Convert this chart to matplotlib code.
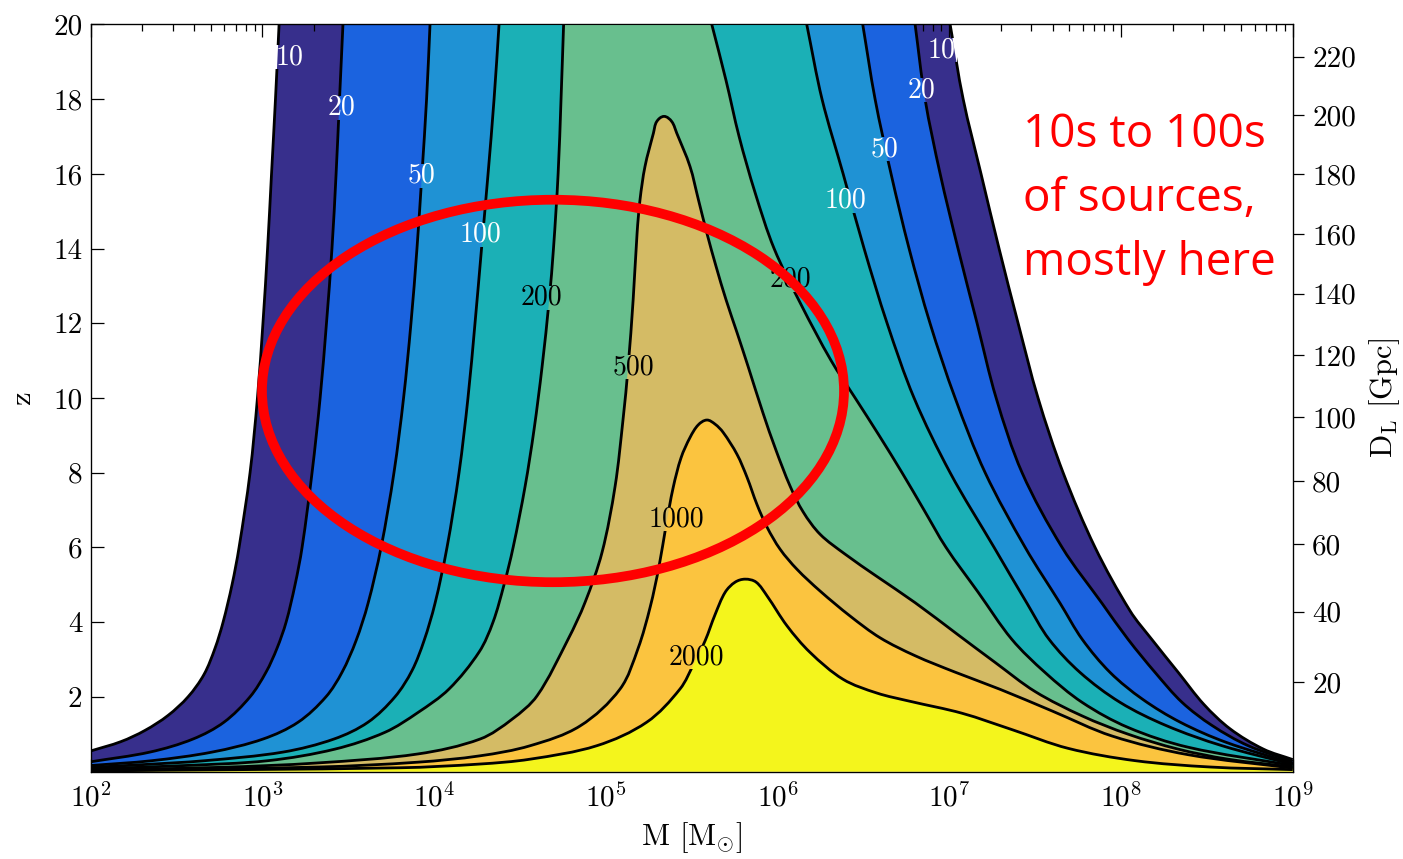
import matplotlib
matplotlib.use("Agg")
import numpy as np
import matplotlib.pyplot as plt
from matplotlib.patches import Ellipse, PathPatch, Rectangle
from matplotlib.path import Path
from matplotlib.ticker import LogLocator, NullFormatter, LogFormatterMathtext

plt.rcParams['font.family'] = 'cmr10'
plt.rcParams['mathtext.fontset'] = 'cm'
plt.rcParams['axes.formatter.use_mathtext'] = True

# SNR levels and the colour of the band above each level
levels = [10, 20, 50, 100, 200, 500, 1000, 2000]
band_colors = ['#372f8c', '#1b63df', '#1f92d4', '#1bb0b6',
               '#68bf8e', '#d4bb65', '#fbc43f', '#f4f51c']

# contours, log10(M/Msun) vs z
# open contours: left branch (bottom -> top), right branch (top -> bottom)
c10_left_logm = [2.0, 2.176, 2.316, 2.450, 2.567, 2.660, 2.724, 2.771, 2.823, 2.864, 2.928, 2.971, 3.003, 3.030, 3.053, 3.076, 3.097]
c10_left_z = [0.55, 0.8, 1.1, 1.5, 2.0, 2.6, 3.3, 4.0, 5.0, 6.0, 8.0, 10.0, 12.0, 14.0, 16.0, 18.0, 20.0]
c10_right_logm = [7.005, 7.081, 7.185, 7.290, 7.401, 7.517, 7.663, 7.849, 8.053, 8.179, 8.334, 8.482, 8.636, 8.829, 9.0]
c10_right_z = [20.0, 18.0, 16.0, 14.0, 12.0, 10.0, 8.0, 6.0, 4.3, 3.54, 2.65, 1.80, 1.14, 0.60, 0.32]

c20_left_logm = [2.0, 2.345, 2.596, 2.776, 2.928, 3.021, 3.085, 3.138, 3.190, 3.231, 3.289, 3.336, 3.373, 3.405, 3.429, 3.449, 3.469]
c20_left_z = [0.26, 0.52, 0.87, 1.32, 2.0, 2.66, 3.3, 4.0, 5.0, 6.0, 8.0, 10.0, 12.0, 14.0, 16.0, 18.0, 20.0]
c20_right_logm = [6.801, 6.859, 6.947, 7.051, 7.162, 7.273, 7.424, 7.657, 7.890, 8.041, 8.199, 8.356, 8.531, 8.741, 9.0]
c20_right_z = [20.0, 18.0, 16.0, 14.0, 12.0, 10.0, 8.0, 6.0, 4.5, 3.54, 2.65, 1.85, 1.23, 0.69, 0.27]

c50_left_logm = [2.0, 2.357, 2.707, 3.004, 3.208, 3.370, 3.464, 3.545, 3.615, 3.691, 3.766, 3.822, 3.865, 3.900, 3.929, 3.956, 3.976]
c50_left_z = [0.16, 0.29, 0.52, 0.87, 1.32, 2.0, 2.66, 3.5, 4.5, 6.0, 8.0, 10.0, 12.0, 14.0, 16.0, 18.0, 20.0]
c50_right_logm = [6.496, 6.568, 6.661, 6.766, 6.888, 7.034, 7.209, 7.442, 7.646, 7.774, 7.937, 8.124, 8.345, 8.613, 9.0]
c50_right_z = [20.0, 18.0, 16.0, 14.0, 12.0, 10.0, 8.0, 6.0, 4.5, 3.54, 2.65, 1.94, 1.32, 0.78, 0.22]

c100_left_logm = [2.0, 2.287, 2.666, 3.120, 3.417, 3.615, 3.772, 3.871, 3.941, 4.005, 4.075, 4.145, 4.197, 4.238, 4.276, 4.314, 4.349, 4.378]
c100_left_z = [0.11, 0.18, 0.29, 0.52, 0.87, 1.32, 2.0, 2.7, 3.5, 4.5, 6.0, 8.0, 10.0, 12.0, 14.0, 16.0, 18.0, 20.0]
c100_right_logm = [6.170, 6.259, 6.382, 6.504, 6.638, 6.795, 7.005, 7.261, 7.453, 7.581, 7.762, 7.995, 8.263, 8.589, 9.0]
c100_right_z = [20.0, 18.0, 16.0, 14.0, 12.0, 10.0, 8.0, 6.0, 4.5, 3.54, 2.65, 1.85, 1.23, 0.69, 0.19]

c200_left_logm = [2.0, 2.549, 3.033, 3.423, 3.714, 3.906, 4.087, 4.262, 4.343, 4.407, 4.460, 4.530, 4.582, 4.629, 4.670, 4.695, 4.722, 4.739, 4.754]
c200_left_z = [0.07, 0.16, 0.29, 0.60, 1.05, 1.58, 2.21, 3.2, 4.0, 5.0, 6.0, 7.64, 9.16, 10.85, 12.63, 14.0, 16.0, 18.0, 20.0]
c200_right_logm = [5.617, 5.700, 5.776, 5.869, 5.980, 6.137, 6.312, 6.452, 6.591, 6.725, 6.853, 6.981, 7.168, 7.364, 7.558, 7.774, 8.041, 8.391, 9.0]
c200_right_z = [20.0, 18.5, 17.0, 15.5, 14.0, 12.5, 11.0, 10.0, 9.0, 8.0, 7.0, 6.0, 4.8, 3.54, 2.65, 1.85, 1.18, 0.65, 0.16]

# closed contours (peaks), left bottom -> peak -> right bottom
c500_logm = [2.0, 2.742, 3.324, 3.906, 4.268, 4.454, 4.600, 4.780, 4.879, 4.978, 5.054, 5.100, 5.130, 5.159,
             5.182, 5.199, 5.228, 5.277, 5.296, 5.339, 5.384, 5.413, 5.490, 5.539, 5.588, 5.642, 5.700, 5.764,
             5.828, 5.915, 5.991, 6.073, 6.149, 6.248, 6.393, 6.579, 6.801, 7.051, 7.267, 7.500, 7.773, 8.041,
             8.332, 8.623, 9.0]
c500_z = [0.04, 0.11, 0.23, 0.47, 0.87, 1.40, 2.03, 3.54, 4.53, 5.87, 7.64, 9.42, 10.85, 12.63,
          14.42, 15.31, 16.2, 17.09, 17.40, 17.54, 17.40, 17.09, 16.2, 15.31, 14.42, 13.52, 12.63, 11.75,
          10.85, 9.6, 8.6, 7.64, 6.95, 6.35, 5.82, 5.22, 4.52, 3.66, 2.92, 2.14, 1.49, 1.0,
          0.60, 0.33, 0.12]

c1000_logm = [2.0, 3.324, 3.906, 4.267, 4.559, 4.850, 5.083, 5.188, 5.258, 5.310, 5.351, 5.392, 5.438, 5.491,
              5.538, 5.588, 5.636, 5.683, 5.764, 5.822, 5.880, 5.939, 6.015, 6.114, 6.248, 6.423, 6.597, 6.801,
              7.034, 7.296, 7.599, 7.948, 8.391, 9.0]
c1000_z = [0.025, 0.12, 0.25, 0.42, 0.69, 1.22, 2.21, 3.3, 4.4, 5.5, 6.6, 7.6, 8.4, 8.95,
           9.28, 9.41, 9.3, 9.08, 8.49, 7.88, 7.15, 6.54, 5.95, 5.41, 4.83, 4.16, 3.58, 3.10,
           2.66, 2.20, 1.62, 0.95, 0.45, 0.09]

c2000_logm = [2.0, 3.801, 4.267, 4.559, 4.947, 5.238, 5.432, 5.514, 5.578, 5.636, 5.695, 5.753, 5.811, 5.875,
              5.939, 6.055, 6.189, 6.381, 6.579, 6.771, 7.074, 7.366, 7.692, 8.083, 8.520, 9.0]
c2000_z = [0.015, 0.10, 0.20, 0.33, 0.69, 1.32, 2.21, 2.9, 3.5, 4.2, 4.8, 5.07, 5.15, 5.07,
           4.70, 3.90, 3.19, 2.47, 2.10, 1.88, 1.56, 1.12, 0.62, 0.29, 0.12, 0.05]

# contour labels
label_text = ['10', '20', '50', '100', '200', '500', '1000', '2000', '200', '100', '50', '20', '10']
label_logm = [3.155, 3.458, 3.924, 4.268, 4.623, 5.159, 5.409, 5.525, 6.073, 6.393, 6.620, 6.836, 6.952]
label_z = [19.13, 17.77, 15.95, 14.37, 12.69, 10.82, 6.75, 3.06, 13.17, 15.28, 16.67, 18.25, 19.32]

# axes ticks
m_ticks = [1e2, 1e3, 1e4, 1e5, 1e6, 1e7, 1e8, 1e9]
z_ticks = [2, 4, 6, 8, 10, 12, 14, 16, 18, 20]
dl_values = [20, 40, 60, 80, 100, 120, 140, 160, 180, 200, 220]
dl_z = [2.40, 4.28, 6.08, 7.78, 9.49, 11.14, 12.79, 14.39, 16.00, 17.58, 19.14]

note_lines = ['10s to 100s', 'of sources,', 'mostly here']


def smooth_segments(lm, z):
    # bezier control points through the traced points (drawn as curves, no new data)
    p = np.column_stack([(np.array(lm) - 2) / 7 * 1202, np.array(z) / 20 * 747])
    n = len(p)
    t = np.zeros_like(p)
    for k in range(n):
        d = p[min(k + 1, n - 1)] - p[max(k - 1, 0)]
        t[k] = d / np.hypot(*d)
    verts = [p[0]]
    for k in range(n - 1):
        L = np.hypot(*(p[k + 1] - p[k]))
        verts += [p[k] + t[k] * L / 3, p[k + 1] - t[k + 1] * L / 3, p[k + 1]]
    verts = np.array(verts)
    out = np.column_stack([10 ** (verts[:, 0] / 1202 * 7 + 2), verts[:, 1] / 747 * 20])
    codes = [Path.MOVETO] + [Path.CURVE4] * (3 * (n - 1))
    return out, codes


fig = plt.figure(figsize=(14.03, 8.59), dpi=100)
ax = fig.add_axes([0.06465, 0.10186, 0.85674, 0.86962])
ax.set_xscale('log')
ax.set_xlim(1e2, 1e9)
ax.set_ylim(0, 20)

open_curves = [
    (c10_left_logm, c10_left_z, c10_right_logm, c10_right_z),
    (c20_left_logm, c20_left_z, c20_right_logm, c20_right_z),
    (c50_left_logm, c50_left_z, c50_right_logm, c50_right_z),
    (c100_left_logm, c100_left_z, c100_right_logm, c100_right_z),
    (c200_left_logm, c200_left_z, c200_right_logm, c200_right_z),
]
closed_curves = [(c500_logm, c500_z), (c1000_logm, c1000_z), (c2000_logm, c2000_z)]

corner_v = [[1e9, 0.0], [1e2, 0.0], [1e2, 0.0]]
corner_c = [Path.LINETO, Path.LINETO, Path.CLOSEPOLY]
lw = 2.0
band_paths = []
for lm, lz, rm, rz in open_curves:
    lv, lc = smooth_segments(lm, lz)
    rv, rc = smooth_segments(rm, rz)
    band_paths.append(Path(np.vstack([lv, rv, corner_v]), lc + [Path.LINETO] + rc[1:] + corner_c))
    ax.add_patch(PathPatch(Path(lv, lc), fill=False, ec='black', lw=lw, zorder=20))
    ax.add_patch(PathPatch(Path(rv, rc), fill=False, ec='black', lw=lw, zorder=20))
for cm_, cz in closed_curves:
    v, c = smooth_segments(cm_, cz)
    band_paths.append(Path(np.vstack([v, corner_v]), c + corner_c))
    ax.add_patch(PathPatch(Path(v, c), fill=False, ec='black', lw=lw, zorder=20))

for i, bp in enumerate(band_paths):
    ax.add_patch(PathPatch(bp, fc=band_colors[i], lw=0, zorder=1 + i))

# contour labels: the line is broken under each label, as in a clabel plot
for t, lm, z in zip(label_text, label_logm, label_z):
    hw = (len(t) * 13.9 / 2 + 2) / 171.7
    hh = 12 / 37.35
    rect = Rectangle((10 ** (lm - hw), z - hh), 10 ** (lm + hw) - 10 ** (lm - hw), 2 * hh,
                     transform=ax.transData)
    bg = ax.add_patch(Rectangle((10 ** (lm - hw), z - hh), 10 ** (lm + hw) - 10 ** (lm - hw), 2 * hh,
                                fc='white', lw=0, zorder=21))
    bg.set_clip_path(rect)
    for i, bp in enumerate(band_paths):
        pp = ax.add_patch(PathPatch(bp, fc=band_colors[i], lw=0, zorder=21.1 + 0.01 * i))
        pp.set_clip_path(rect)
    col = 'white' if int(t) <= 100 else 'black'
    ax.text(10 ** lm, z, t, color=col, fontsize=20, ha='center', va='center', zorder=25)

ax.set_xticks(m_ticks)
ax.xaxis.set_major_formatter(LogFormatterMathtext())
ax.xaxis.set_minor_locator(LogLocator(base=10, subs=np.arange(2, 10), numticks=20))
ax.xaxis.set_minor_formatter(NullFormatter())
ax.set_yticks(z_ticks)
ax.set_yticklabels([str(v) for v in z_ticks])
ax.tick_params(which='both', direction='in', top=True, right=True, labelsize=21, width=0.9)
ax.tick_params(which='major', length=9.5)
ax.tick_params(which='minor', length=5)
ax.tick_params(axis='x', pad=8)
ax.tick_params(axis='y', pad=6)
for s in ax.spines.values():
    s.set_linewidth(0.9)

ax.set_xlabel(r'M [M$_{\odot}$]', fontsize=22, labelpad=6)
ax.set_ylabel('z', fontsize=22, labelpad=12)

ax2 = ax.twinx()
ax2.set_ylim(0, 20)
ax2.set_yticks(dl_z)
ax2.set_yticklabels([str(v) for v in dl_values])
ax2.tick_params(direction='out', length=8, width=0.9, labelsize=21, pad=6)
ax2.set_ylabel(r'D$_{\mathrm{L}}$ [Gpc]', fontsize=22, labelpad=8)

ell = Ellipse((0.3846, 0.5094), 0.4842, 0.5120, transform=ax.transAxes, fill=False,
              ec='#ff0000', lw=7, clip_on=False, zorder=30)
ax.add_patch(ell)

for k, line in enumerate(note_lines):
    fig.text(0.7291, 0.8289 - k * 0.0745, line, color='#ff0000', fontsize=33,
             family='Open Sans', ha='left', va='baseline')

fig.savefig('out.png', dpi=100)
